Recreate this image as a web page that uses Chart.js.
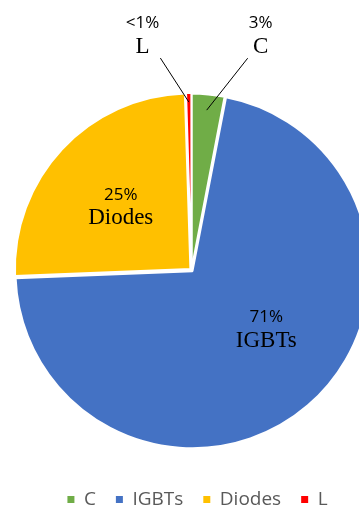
<!DOCTYPE html>
<html>
<head>
<meta charset="utf-8">
<script src="https://cdn.jsdelivr.net/npm/chart.js@4"></script>
<style>
  html, body { margin: 0; padding: 0; background: #ffffff; overflow: hidden; }
  #wrap { width: 359px; height: 509px; position: relative; }
</style>
</head>
<body>
<div id="wrap"><canvas id="chart" width="359" height="509"></canvas></div>
<script>
// Share of each component type (percent)
const categories = ['C', 'IGBTs', 'Diodes', 'L'];
const shares = [3, 71, 25, 0.5];
const sliceColors = ['#70AD47', '#4472C4', '#FFC000', '#FF0000'];
const sliceOffsets = [2, 6, 6, 3];

// Where each two-line label sits: angular shift (deg) from the slice middle,
// distance as a fraction of the radius, and for outside labels the leader end.
const labelPlacement = [
  { outside: true,  shift: 10.9,  dist: 1.40,  lead: 0.915 },
  { outside: false, shift: -11.4, dist: 0.54 },
  { outside: false, shift: -0.8,  dist: 0.544 },
  { outside: true,  shift: -10.8, dist: 1.373, lead: 0.957 }
];

function pctText(v, total) {
  const p = v / total * 100;
  return p < 1 ? '<1%' : Math.round(p) + '%';
}

const sliceLabels = {
  id: 'sliceLabels',
  afterDatasetsDraw(chart) {
    const ctx = chart.ctx;
    const meta = chart.getDatasetMeta(0);
    const total = shares.reduce((a, b) => a + b, 0);
    meta.data.forEach((arc, i) => {
      const { x, y, startAngle, endAngle, outerRadius } =
        arc.getProps(['x', 'y', 'startAngle', 'endAngle', 'outerRadius'], true);
      const mid = (startAngle + endAngle) / 2;
      const p = labelPlacement[i];
      const a = mid + p.shift * Math.PI / 180;
      const lx = x + Math.cos(a) * p.dist * outerRadius;
      const ly = y + Math.sin(a) * p.dist * outerRadius;
      const pct = pctText(shares[i], total);

      ctx.save();
      ctx.fillStyle = '#000000';
      ctx.textAlign = 'center';
      ctx.textBaseline = 'alphabetic';
      ctx.font = '17px "Open Sans"';
      const w1 = ctx.measureText(pct).width;
      ctx.fillText(pct, lx, ly - 6);
      ctx.font = '23px "Liberation Serif"';
      const w2 = ctx.measureText(categories[i]).width;
      ctx.fillText(categories[i], lx, ly + 18.5);

      if (p.outside) {
        const ex = x + Math.cos(mid) * p.lead * outerRadius;
        const ey = y + Math.sin(mid) * p.lead * outerRadius;
        const halfW = Math.max(w1, w2) / 2 + 1;
        const halfH = 24;
        const sx = Math.min(Math.max(ex, lx - halfW), lx + halfW);
        const sy = Math.min(Math.max(ey, ly - halfH), ly + halfH);
        ctx.strokeStyle = '#000000';
        ctx.lineWidth = 1;
        ctx.beginPath();
        ctx.moveTo(sx, sy);
        ctx.lineTo(ex, ey);
        ctx.stroke();
      }
      ctx.restore();
    });
  }
};

// Nudge the legend row a little to the right of the pie's axis.
const legendShift = {
  id: 'legendShift',
  afterLayout(chart) {
    if (chart.legend) {
      chart.legend.left += 6;
      chart.legend.right += 6;
    }
  }
};

new Chart(document.getElementById('chart'), {
  type: 'pie',
  data: {
    labels: categories,
    datasets: [{
      data: shares,
      backgroundColor: sliceColors,
      borderColor: '#ffffff',
      borderWidth: 2,
      offset: sliceOffsets,
      hoverOffset: 0,
      clip: false
    }]
  },
  options: {
    responsive: false,
    animation: false,
    events: [],
    radius: 175.5,
    layout: { padding: { top: 70, left: 24, right: 0, bottom: -10 } },
    plugins: {
      tooltip: { enabled: false },
      legend: {
        position: 'bottom',
        labels: {
          boxWidth: 7,
          boxHeight: 7,
          padding: 20,
          color: '#595959',
          font: { family: '"Open Sans"', size: 19 },
          generateLabels: () => categories.map((c, i) => ({
            text: c,
            fillStyle: sliceColors[i],
            strokeStyle: sliceColors[i],
            lineWidth: 0,
            hidden: false,
            index: i,
            fontColor: '#595959'
          }))
        }
      }
    }
  },
  plugins: [sliceLabels, legendShift]
});
</script>
</body>
</html>
